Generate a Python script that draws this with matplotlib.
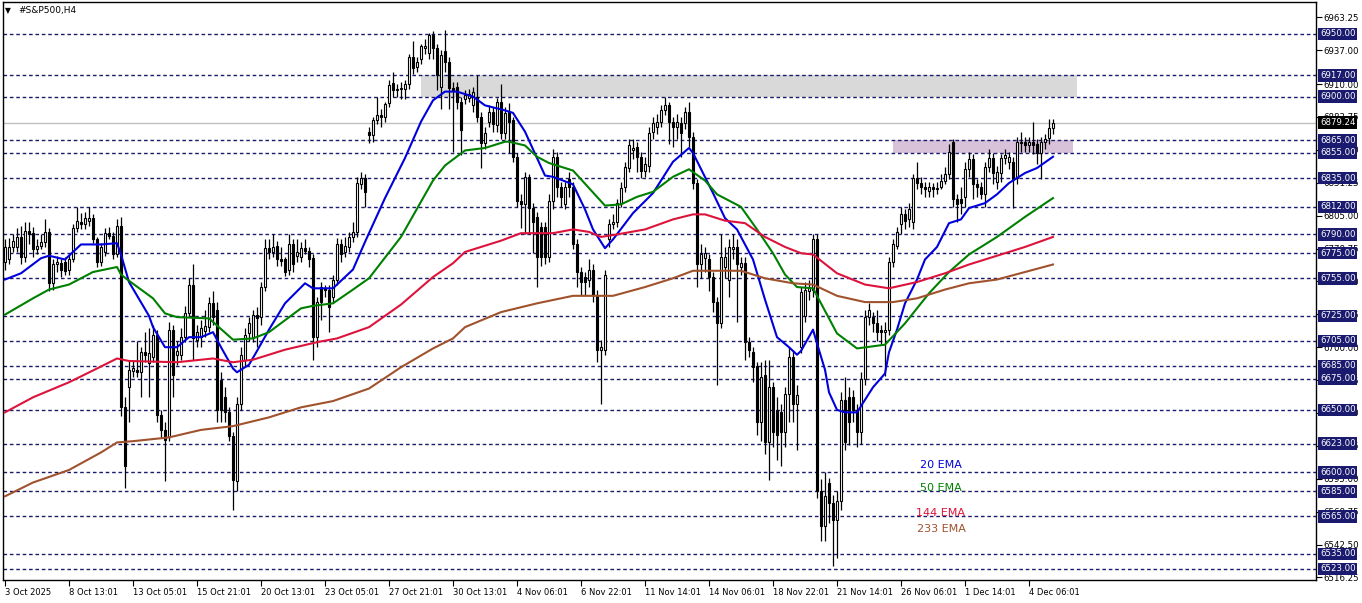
import matplotlib
matplotlib.use("Agg")
import matplotlib.pyplot as plt
import numpy as np

# ---------------------------------------------------------
# Candle data (#S&P500, H4)
# ---------------------------------------------------------
opens = [
    6768, 6770, 6780, 6780, 6788, 6772, 6793, 6791, 6778, 6781,
    6784, 6792, 6751, 6766, 6767, 6768, 6762, 6770, 6795, 6800,
    6798, 6801, 6803, 6786, 6768, 6776, 6791, 6789, 6774, 6797,
    6652, 6668, 6681, 6682, 6680, 6696, 6687, 6692, 6710, 6646,
    6634, 6628, 6714, 6694, 6694, 6708, 6727, 6750, 6706, 6708,
    6713, 6716, 6735, 6730, 6674, 6660, 6648, 6629, 6593, 6655,
    6690, 6711, 6708, 6726, 6724, 6748, 6779, 6776, 6781, 6770,
    6770, 6762, 6782, 6773, 6772, 6779, 6777, 6771, 6708, 6748,
    6747, 6746, 6740, 6754, 6782, 6776, 6780, 6788, 6792, 6830,
    6835, 6872, 6869, 6881, 6885, 6884, 6895, 6911, 6905, 6906,
    6906, 6910, 6932, 6924, 6930, 6939, 6935, 6949, 6939, 6908,
    6936, 6928, 6907, 6908, 6896, 6898, 6899, 6893, 6900, 6884,
    6863, 6880, 6888, 6877, 6896, 6871, 6888, 6881, 6852, 6817,
    6814, 6836, 6811, 6804, 6796, 6796, 6772, 6817, 6852, 6828,
    6814, 6834, 6828, 6782, 6760, 6756, 6754, 6762, 6742, 6698,
    6698, 6786, 6798, 6800, 6815, 6828, 6843, 6857, 6860, 6852,
    6841, 6845, 6872, 6876, 6880, 6889, 6893, 6880, 6876, 6879,
    6879, 6888, 6868, 6831, 6766, 6771, 6770, 6756, 6736, 6719,
    6764, 6754, 6778, 6780, 6764, 6767, 6704, 6696, 6685, 6640,
    6678, 6624, 6668, 6650, 6648, 6632, 6663, 6692, 6655, 6700,
    6725, 6745, 6746, 6786, 6585, 6557, 6592, 6576, 6562, 6577,
    6658, 6660, 6660, 6650, 6632, 6675, 6724, 6724, 6719, 6714,
    6712, 6714, 6768, 6781, 6798, 6806, 6802, 6800, 6835, 6831,
    6828, 6825, 6828, 6826, 6828, 6833, 6838, 6864, 6818, 6818,
    6820, 6842, 6850, 6830, 6828, 6822, 6844, 6851, 6832, 6839,
    6851, 6848, 6848, 6835, 6864, 6864, 6861, 6864, 6862, 6855,
    6864, 6867, 6875,
]
highs = [
    6786, 6787, 6790, 6795, 6797, 6800, 6800, 6796, 6786, 6790,
    6802, 6795, 6770, 6773, 6770, 6772, 6774, 6798, 6812, 6807,
    6808, 6812, 6806, 6788, 6783, 6795, 6796, 6792, 6802, 6804,
    6660, 6690, 6690, 6705, 6700, 6712, 6715, 6718, 6714, 6650,
    6640, 6720, 6718, 6705, 6715, 6733, 6755, 6766, 6718, 6722,
    6730, 6740, 6745, 6736, 6680, 6668, 6652, 6632, 6660, 6700,
    6715, 6724, 6730, 6732, 6752, 6786, 6786, 6790, 6785, 6780,
    6772, 6790, 6786, 6786, 6784, 6786, 6780, 6774, 6740, 6752,
    6750, 6750, 6758, 6787, 6786, 6788, 6792, 6800, 6836, 6840,
    6838, 6876, 6884, 6900, 6890, 6896, 6913, 6920, 6910, 6912,
    6913, 6934, 6944, 6932, 6942, 6946, 6951, 6952, 6942, 6937,
    6953, 6932, 6912, 6912, 6900, 6905, 6906, 6908, 6917, 6888,
    6876, 6893, 6892, 6899, 6910, 6892, 6895, 6884, 6855, 6822,
    6840, 6838, 6815, 6808, 6800, 6800, 6822, 6858, 6856, 6832,
    6832, 6840, 6832, 6786, 6764, 6760, 6770, 6766, 6746, 6706,
    6762, 6802, 6806, 6818, 6832, 6848, 6866, 6866, 6864, 6856,
    6852, 6876, 6884, 6886, 6893, 6900, 6896, 6884, 6886, 6884,
    6892, 6896, 6872, 6834, 6782, 6780, 6774, 6760, 6740, 6790,
    6780, 6786, 6790, 6786, 6772, 6772, 6708, 6700, 6688, 6688,
    6690, 6690, 6672, 6660, 6655, 6668, 6700, 6698, 6670, 6748,
    6752, 6754, 6790, 6790, 6595, 6600, 6596, 6582, 6585, 6664,
    6676, 6668, 6666, 6655, 6680, 6730, 6735, 6728, 6730, 6718,
    6720, 6772, 6786, 6796, 6812, 6810, 6815, 6838, 6848, 6836,
    6832, 6832, 6831, 6832, 6838, 6844, 6862, 6866, 6822, 6828,
    6848, 6856, 6854, 6834, 6832, 6848, 6858, 6855, 6845, 6854,
    6858, 6856, 6852, 6868, 6872, 6868, 6868, 6880, 6866, 6868,
    6870, 6882, 6882,
]
lows = [
    6762, 6766, 6776, 6776, 6766, 6768, 6782, 6772, 6774, 6778,
    6780, 6745, 6746, 6760, 6756, 6758, 6758, 6768, 6792, 6794,
    6794, 6797, 6783, 6764, 6765, 6773, 6786, 6770, 6772, 6645,
    6588, 6640, 6676, 6676, 6660, 6688, 6660, 6688, 6640, 6628,
    6593, 6625, 6660, 6686, 6690, 6704, 6724, 6690, 6700, 6700,
    6708, 6712, 6718, 6640, 6640, 6640, 6625, 6570, 6585, 6650,
    6685, 6705, 6704, 6700, 6718, 6745, 6770, 6772, 6765, 6765,
    6757, 6758, 6760, 6768, 6768, 6774, 6764, 6690, 6700, 6722,
    6740, 6712, 6735, 6750, 6768, 6772, 6776, 6784, 6788, 6826,
    6812, 6863, 6864, 6878, 6876, 6880, 6892, 6900, 6900, 6898,
    6898, 6906, 6918, 6920, 6926, 6934, 6930, 6930, 6905, 6890,
    6920, 6890, 6856, 6890, 6853, 6894, 6896, 6888, 6880, 6843,
    6858, 6876, 6872, 6872, 6866, 6866, 6855, 6848, 6812, 6795,
    6790, 6790, 6775, 6748, 6765, 6766, 6768, 6810, 6820, 6812,
    6810, 6820, 6778, 6748, 6742, 6742, 6748, 6736, 6688, 6655,
    6694, 6780, 6794, 6796, 6812, 6824, 6840, 6850, 6840, 6835,
    6836, 6840, 6866, 6870, 6876, 6885, 6862, 6860, 6866, 6852,
    6874, 6860, 6826, 6748, 6755, 6760, 6745, 6728, 6670, 6715,
    6755, 6740, 6770, 6720, 6758, 6690, 6692, 6672, 6630, 6625,
    6615, 6594, 6620, 6610, 6605, 6620, 6640, 6640, 6618, 6695,
    6720, 6738, 6740, 6580, 6545, 6545, 6560, 6525, 6532, 6570,
    6618, 6622, 6640, 6620, 6623, 6670, 6718, 6712, 6705, 6702,
    6677, 6710, 6764, 6778, 6790, 6794, 6796, 6794, 6826, 6822,
    6820, 6820, 6820, 6822, 6826, 6830, 6834, 6812, 6800, 6806,
    6812, 6836, 6818, 6820, 6818, 6812, 6840, 6830, 6826, 6832,
    6846, 6842, 6811, 6830, 6856, 6856, 6856, 6854, 6846, 6834,
    6858, 6862, 6870,
]
closes = [
    6780, 6780, 6785, 6788, 6772, 6793, 6790, 6778, 6781, 6784,
    6792, 6751, 6766, 6768, 6762, 6761, 6770, 6795, 6801, 6798,
    6803, 6803, 6786, 6768, 6780, 6791, 6789, 6774, 6797, 6652,
    6605, 6682, 6683, 6680, 6696, 6694, 6695, 6710, 6646, 6634,
    6626, 6714, 6678, 6697, 6708, 6727, 6750, 6707, 6712, 6715,
    6717, 6735, 6724, 6650, 6650, 6648, 6629, 6594, 6655, 6694,
    6710, 6719, 6726, 6723, 6748, 6779, 6776, 6780, 6770, 6769,
    6760, 6782, 6766, 6776, 6779, 6777, 6770, 6708, 6736, 6736,
    6746, 6732, 6754, 6782, 6774, 6781, 6788, 6792, 6831, 6835,
    6824, 6869, 6881, 6885, 6884, 6894, 6909, 6905, 6906, 6907,
    6910, 6932, 6923, 6928, 6940, 6940, 6949, 6939, 6917, 6933,
    6928, 6907, 6905, 6896, 6873, 6901, 6902, 6904, 6884, 6863,
    6871, 6888, 6878, 6896, 6871, 6887, 6880, 6852, 6817, 6814,
    6836, 6811, 6800, 6772, 6772, 6772, 6817, 6852, 6828, 6820,
    6828, 6828, 6782, 6760, 6752, 6752, 6762, 6742, 6698, 6700,
    6758, 6798, 6800, 6815, 6827, 6844, 6861, 6859, 6852, 6841,
    6846, 6871, 6879, 6880, 6889, 6893, 6880, 6876, 6880, 6871,
    6888, 6868, 6831, 6766, 6774, 6775, 6756, 6736, 6719, 6772,
    6772, 6780, 6780, 6766, 6767, 6704, 6698, 6684, 6640, 6676,
    6624, 6668, 6632, 6630, 6632, 6663, 6692, 6655, 6662, 6744,
    6746, 6748, 6786, 6585, 6557, 6581, 6576, 6562, 6577, 6658,
    6624, 6640, 6650, 6632, 6675, 6724, 6730, 6719, 6712, 6712,
    6714, 6768, 6782, 6792, 6806, 6801, 6810, 6835, 6831, 6828,
    6826, 6828, 6826, 6827, 6833, 6838, 6856, 6818, 6814, 6815,
    6842, 6850, 6830, 6828, 6822, 6844, 6851, 6839, 6840, 6851,
    6853, 6852, 6834, 6864, 6863, 6861, 6864, 6861, 6855, 6864,
    6866, 6875, 6879.24,
]

# EMA lines, sampled at bar indices
ema20_bars = [0, 4, 9, 11, 15, 19, 24, 28, 29, 31, 36, 37, 40, 43, 46, 49, 52, 54, 57, 58,
              61, 63, 66, 70, 75, 77, 82, 87, 90, 95, 100, 104, 107, 110, 113, 117, 120, 125,
              127, 130, 133, 135, 137, 142, 145, 147, 150, 152, 157, 162, 167, 171, 172, 177,
              180, 183, 187, 190, 193, 196, 198, 199, 202, 203, 205, 206, 208, 210, 213, 215,
              217, 220, 221, 223, 225, 228, 230, 233, 236, 239, 241, 245, 248, 251, 255, 258,
              262]
ema20_vals = [6754, 6759, 6771, 6773, 6770, 6782, 6782, 6783, 6774, 6752, 6725, 6716, 6700, 6700,
              6708, 6708, 6712, 6700, 6683, 6680, 6686, 6697, 6714, 6735, 6751, 6747, 6747, 6762,
              6784, 6819, 6851, 6880, 6897, 6904, 6904, 6900, 6893, 6889, 6887, 6872, 6851, 6837,
              6836, 6830, 6810, 6794, 6779, 6786, 6807, 6823, 6848, 6859, 6855, 6823, 6803, 6794,
              6770, 6738, 6708, 6700, 6694, 6697, 6714, 6703, 6682, 6664, 6650, 6648, 6648, 6658,
              6668, 6679, 6696, 6714, 6735, 6754, 6770, 6780, 6799, 6802, 6811, 6815, 6822, 6831,
              6839, 6843, 6852]

ema50_bars = [0, 7, 11, 16, 22, 28, 29, 31, 37, 40, 43, 51, 57, 62, 66, 74, 77, 82, 87, 91,
              99, 107, 110, 115, 120, 125, 126, 130, 133, 136, 142, 146, 150, 154, 158, 162,
              167, 171, 175, 178, 184, 188, 192, 195, 198, 202, 204, 208, 213, 220, 225, 231,
              236, 241, 248, 255, 262]
ema50_vals = [6726, 6739, 6746, 6750, 6760, 6764, 6758, 6753, 6739, 6727, 6724, 6723, 6706, 6707,
              6712, 6731, 6733, 6735, 6746, 6755, 6788, 6833, 6845, 6857, 6859, 6864, 6864, 6861,
              6852, 6847, 6841, 6827, 6813, 6814, 6820, 6824, 6836, 6842, 6833, 6822, 6812, 6794,
              6775, 6758, 6748, 6747, 6735, 6711, 6699, 6702, 6719, 6743, 6760, 6774, 6788, 6804,
              6819]

ema144_bars = [0, 7, 16, 23, 28, 31, 43, 52, 57, 62, 70, 78, 83, 91, 99, 107, 112, 115, 124,
               129, 137, 142, 146, 149, 153, 160, 167, 172, 175, 180, 185, 190, 195, 199, 202,
               208, 215, 221, 228, 235, 241, 248, 255, 262]
ema144_vals = [6648, 6660, 6672, 6683, 6691, 6689, 6688, 6691, 6688, 6690, 6698, 6704, 6707, 6716,
               6734, 6756, 6767, 6776, 6785, 6791, 6791, 6794, 6792, 6788, 6790, 6794, 6802, 6806,
               6806, 6801, 6799, 6788, 6780, 6775, 6774, 6759, 6750, 6747, 6752, 6759, 6766, 6773,
               6780, 6788]

ema233_bars = [0, 7, 16, 24, 28, 32, 41, 49, 57, 66, 74, 82, 91, 99, 107, 112, 115, 124, 133,
               142, 152, 160, 167, 172, 184, 190, 197, 202, 208, 215, 222, 228, 235, 241, 248,
               255, 262]
ema233_vals = [6581, 6592, 6602, 6616, 6624, 6625, 6628, 6634, 6637, 6644, 6652, 6657, 6667, 6684,
               6699, 6707, 6716, 6728, 6735, 6741, 6741, 6748, 6755, 6761, 6761, 6755, 6751, 6750,
               6741, 6736, 6736, 6739, 6746, 6751, 6754, 6760, 6766]

# horizontal levels drawn on the chart
levels = [6950, 6917, 6900, 6865, 6855, 6835, 6812, 6790, 6775, 6755, 6725,
          6705, 6685, 6675, 6650, 6623, 6600, 6585, 6565, 6535, 6523]
scale_ticks = [6963.25, 6937.00, 6910.00, 6883.75, 6857.50, 6831.25, 6805.00, 6778.75,
               6752.50, 6726.25, 6700.00, 6673.75, 6647.50, 6621.25, 6595.00, 6568.75,
               6542.50, 6516.25]
last_price = 6879.24

gray_zone = (104, 268, 6900, 6917)     # bar from, bar to, price low, price high
pink_zone = (222, 267, 6855, 6865)

time_labels = ["3 Oct 2025", "8 Oct 13:01", "13 Oct 05:01", "15 Oct 21:01", "20 Oct 13:01",
               "23 Oct 05:01", "27 Oct 21:01", "30 Oct 13:01", "4 Nov 06:01", "6 Nov 22:01",
               "11 Nov 14:01", "14 Nov 06:01", "18 Nov 22:01", "21 Nov 14:01", "26 Nov 06:01",
               "1 Dec 14:01", "4 Dec 06:01"]
bars_per_label = 16

ema_names = ["20 EMA", "50 EMA", "144 EMA", "233 EMA"]
ema_colors = ["#0000dd", "#008000", "#dc143c", "#a0522d"]

# ---------------------------------------------------------
# Plot
# ---------------------------------------------------------
plt.rcParams['font.family'] = ['DejaVu Sans']
navy = "#1a1a6e"

fig = plt.figure(figsize=(13.62, 6.03), dpi=100)
ax = fig.add_axes([3 / 1362, 23 / 603, 1313 / 1362, 578 / 603])

o = np.array(opens, dtype=float)
h = np.array(highs, dtype=float)
l = np.array(lows, dtype=float)
c = np.array(closes, dtype=float)
idx = np.arange(len(c))

# zones
ax.fill_between([gray_zone[0], gray_zone[1]], gray_zone[2], gray_zone[3],
                color="#d9d9d9", lw=0, zorder=1)
ax.fill_between([pink_zone[0], pink_zone[1]], pink_zone[2], pink_zone[3],
                color="#d8c2da", lw=0, zorder=1)

# dashed levels + last price line
for lv in levels:
    ax.axhline(lv, color=navy, lw=1.0, dashes=(2.6, 2.0), zorder=2)
ax.axhline(last_price, color="#c0c0c0", lw=1.0, zorder=2)

# candles
ax.vlines(idx, l, h, color="black", lw=0.9, zorder=3)
up = c >= o
bottom = np.minimum(o, c)
height = np.maximum(np.abs(c - o), 0.8)
ax.bar(idx[up], height[up], bottom=bottom[up], width=0.6, color="white",
       edgecolor="black", lw=0.8, zorder=4)
ax.bar(idx[~up], height[~up], bottom=bottom[~up], width=0.6, color="black",
       edgecolor="black", lw=0.8, zorder=4)

# EMAs
for bars, vals, col in zip([ema20_bars, ema50_bars, ema144_bars, ema233_bars],
                           [ema20_vals, ema50_vals, ema144_vals, ema233_vals], ema_colors):
    ax.plot(bars, vals, color=col, lw=1.5, zorder=5, solid_joinstyle="round")

# EMA legend text
for name, col, yv in zip(ema_names, ema_colors, [6606, 6588, 6568, 6555]):
    ax.text(234, yv, name, color=col, fontsize=8, ha="center", va="center", zorder=6)

ax.set_xlim(-0.5, 327.75)
ax.set_ylim(6514.2, 6975.5)

# time axis
ax.set_xticks(np.arange(len(time_labels)) * bars_per_label)
ax.set_xticklabels(time_labels, ha="left", fontsize=6.0)
ax.tick_params(axis="x", direction="out", length=4, width=0.8, pad=2)

# price axis on the right
ax.yaxis.tick_right()
ax.set_yticks(scale_ticks)
ax.set_yticklabels([f"{v:.2f}" for v in scale_ticks], fontsize=6.2)
ax.tick_params(axis="y", direction="out", length=4, width=0.8, pad=1.5)

for sp in ax.spines.values():
    sp.set_color("black")
    sp.set_linewidth(1.0)

# highlighted level labels (drawn over the scale, as in the terminal)
ytr = ax.get_yaxis_transform()
for lv in levels:
    ax.text(1.003, lv, f"{lv:.2f}", transform=ytr, fontsize=6.2, color="white",
            ha="left", va="center", clip_on=False, zorder=10,
            bbox=dict(boxstyle="square,pad=0.2", fc=navy, ec="none"))
ax.text(1.003, last_price, f"{last_price:.2f}", transform=ytr, fontsize=6.2, color="white",
        ha="left", va="center", clip_on=False, zorder=11,
        bbox=dict(boxstyle="square,pad=0.2", fc="black", ec="none"))

# symbol caption
fig.text(5 / 1362, 1 - 11 / 603, "\u25bc", fontsize=5.5, va="center", ha="left")
fig.text(18 / 1362, 1 - 11 / 603, "#S&P500,H4", fontsize=6.5, va="center", ha="left")

fig.savefig("out.png", dpi=100, facecolor="white")
